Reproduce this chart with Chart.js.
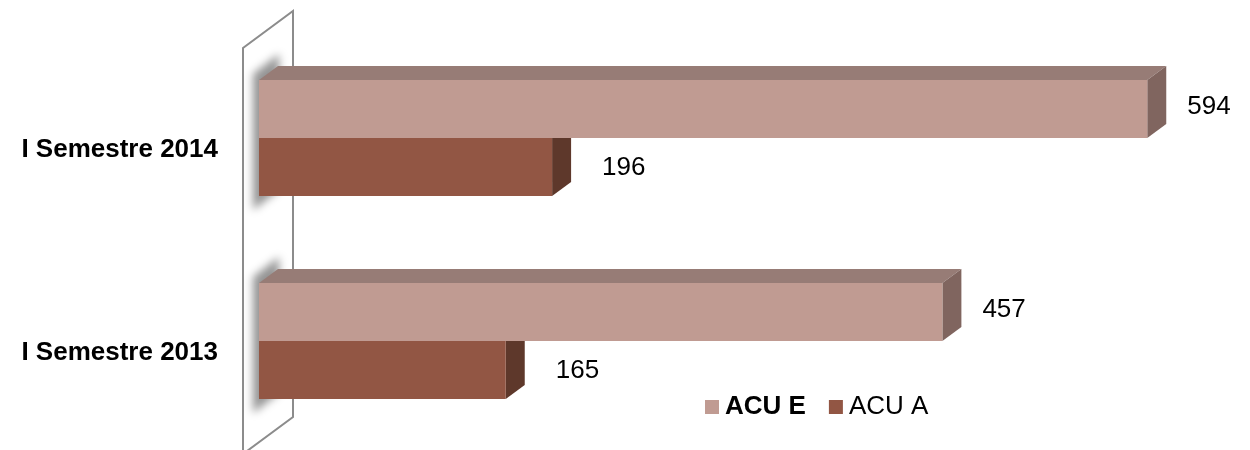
<!DOCTYPE html>
<html>
<head>
<meta charset="utf-8">
<script src="https://cdn.jsdelivr.net/npm/chart.js@4/dist/chart.umd.min.js"></script>
<style>
  html, body { margin: 0; padding: 0; background: #fff; }
  #wrap { width: 1250px; height: 450px; position: relative; }
</style>
</head>
<body>
<div id="wrap"><canvas id="c"></canvas></div>
<script>
// Data
const categories = ['I Semestre 2014', 'I Semestre 2013'];
const seriesNames = ['ACU E', 'ACU A'];
const acuE = [594, 457];
const acuA = [196, 165];

// Styling
const FONT = "'Liberation Sans', Arial, Helvetica, sans-serif";
const frontColors = ['#C09B92', '#925644'];
const topColors = ['#977C76', '#74433A'];
const sideColors = ['#80655F', '#5E382B'];
const legendBold = [true, false];
const DEPTH = { dx: 19, dy: -14 };          // extrusion of each bar
const WALL = { inset: 16, dx: 50, dy: -37, drop: 11.5 };
const LABEL_DX = [40, 50];
const LABEL_DY = [-2, 1];

// Back wall, soft shadows and the extruded top/side faces of the bars
const depthPlugin = {
  id: 'depth3d',
  beforeDatasetsDraw(chart) {
    const ctx = chart.ctx;
    const a = chart.chartArea;
    ctx.save();

    // wall outline
    const x0 = a.left - WALL.inset, x1 = x0 + WALL.dx;
    const yT = a.top + WALL.drop, yB = a.bottom + WALL.drop;
    ctx.strokeStyle = '#8C8C8C';
    ctx.lineWidth = 2;
    ctx.beginPath();
    ctx.moveTo(x0, yB + 5);
    ctx.lineTo(x0, yT);
    ctx.lineTo(x1, yT + WALL.dy);
    ctx.lineTo(x1, yB + WALL.dy);
    ctx.lineTo(x0, yB);
    ctx.stroke();

    // shadows cast by each bar group on the wall
    const m0 = chart.getDatasetMeta(0), m1 = chart.getDatasetMeta(1);
    ctx.filter = 'blur(4px)';
    ctx.fillStyle = 'rgba(0,0,0,0.42)';
    m0.data.forEach((el, i) => {
      const p0 = el.getProps(['y', 'height', 'base'], true);
      const p1 = m1.data[i].getProps(['y', 'height'], true);
      const top = p0.y - p0.height / 2;
      const bot = p1.y + p1.height / 2;
      const bx = p0.base;
      ctx.beginPath();
      ctx.moveTo(bx - 6, top - 6);
      ctx.lineTo(bx + 20, top - 26);
      ctx.lineTo(bx + 20, bot - 6);
      ctx.lineTo(bx - 6, bot + 14);
      ctx.closePath();
      ctx.fill();
    });
    ctx.filter = 'none';

    // top and side faces
    [1, 0].forEach(di => {
      chart.getDatasetMeta(di).data.forEach(el => {
        const p = el.getProps(['x', 'y', 'base', 'height'], true);
        const top = p.y - p.height / 2, bot = p.y + p.height / 2;
        ctx.fillStyle = topColors[di];
        ctx.beginPath();
        ctx.moveTo(p.base, top);
        ctx.lineTo(p.base + DEPTH.dx, top + DEPTH.dy);
        ctx.lineTo(p.x + DEPTH.dx, top + DEPTH.dy);
        ctx.lineTo(p.x, top);
        ctx.closePath();
        ctx.fill();
        ctx.fillStyle = sideColors[di];
        ctx.beginPath();
        ctx.moveTo(p.x, top);
        ctx.lineTo(p.x + DEPTH.dx, top + DEPTH.dy);
        ctx.lineTo(p.x + DEPTH.dx, bot + DEPTH.dy);
        ctx.lineTo(p.x, bot);
        ctx.closePath();
        ctx.fill();
      });
    });
    ctx.restore();
  },
  afterDatasetsDraw(chart) {
    const ctx = chart.ctx;
    ctx.save();
    ctx.font = '26px ' + FONT;
    ctx.fillStyle = '#000';
    ctx.textAlign = 'left';
    ctx.textBaseline = 'middle';
    chart.data.datasets.forEach((ds, di) => {
      chart.getDatasetMeta(di).data.forEach((el, i) => {
        const p = el.getProps(['x', 'y'], true);
        ctx.fillText(String(ds.data[i]), p.x + LABEL_DX[di], p.y + LABEL_DY[di]);
      });
    });
    ctx.restore();
  },
  afterDraw(chart) {
    // legend
    const ctx = chart.ctx;
    ctx.save();
    let x = 705;
    const y = 407;
    ctx.textBaseline = 'middle';
    ctx.textAlign = 'left';
    chart.data.datasets.forEach((ds, di) => {
      ctx.fillStyle = ds.backgroundColor;
      ctx.fillRect(x, y - 7, 14, 14);
      x += 20;
      ctx.font = (legendBold[di] ? 'bold ' : '') + '26px ' + FONT;
      ctx.fillStyle = '#000';
      ctx.fillText(ds.label, x, y);
      x += ctx.measureText(ds.label).width + 23;
    });
    ctx.restore();
  }
};

new Chart(document.getElementById('c'), {
  type: 'bar',
  data: {
    labels: categories,
    datasets: [
      { label: seriesNames[0], data: acuE, backgroundColor: frontColors[0], borderWidth: 0 },
      { label: seriesNames[1], data: acuA, backgroundColor: frontColors[1], borderWidth: 0 }
    ]
  },
  options: {
    indexAxis: 'y',
    responsive: true,
    maintainAspectRatio: false,
    animation: false,
    layout: { padding: { left: 0, right: 19, top: 36.5, bottom: 7.5 } },
    categoryPercentage: 0.5714,
    barPercentage: 1,
    plugins: { legend: { display: false }, tooltip: { enabled: false }, title: { display: false } },
    scales: {
      x: { type: 'linear', min: 0, max: 650, display: false },
      y: {
        grid: { display: false, drawTicks: false },
        border: { display: false },
        ticks: {
          font: { family: FONT, size: 26, weight: 'bold' },
          color: '#000',
          padding: 41,
          labelOffset: 12
        },
        afterFit(scale) {
          scale.width = 259;
          scale.paddingTop = 0;
          scale.paddingBottom = 0;
        }
      }
    }
  },
  plugins: [depthPlugin]
});
</script>
</body>
</html>
